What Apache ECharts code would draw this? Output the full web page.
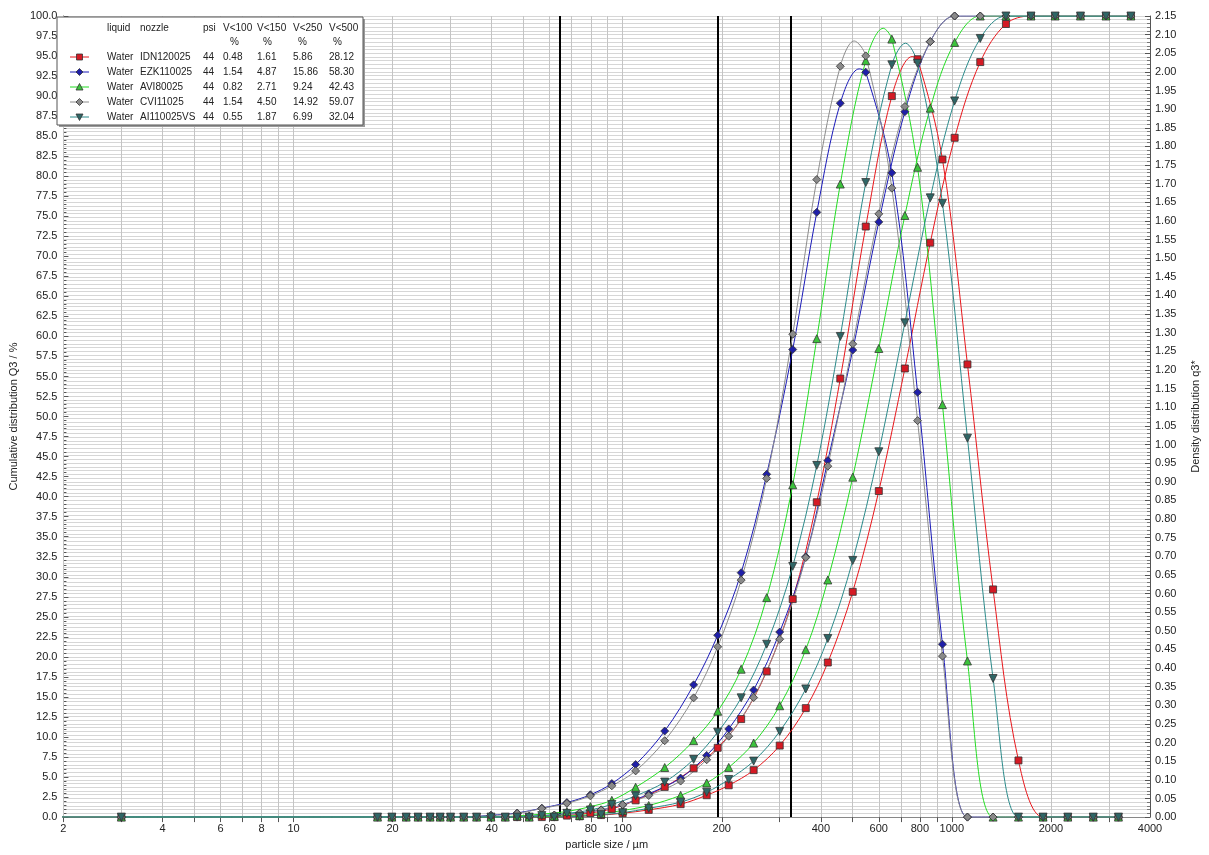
<!DOCTYPE html>
<html><head><meta charset="utf-8">
<script src="https://cdn.jsdelivr.net/npm/echarts@6/dist/echarts.min.js"></script>
<style>html,body{margin:0;padding:0;background:#fff}#c{width:1209px;height:855px}</style>
</head><body><div id="c"></div>
<script>
// particle size classes (µm): upper class limits for Q3, class mid points for q3*
const sizeLimits = [0.5, 18, 22, 26, 30, 36, 44, 52, 62, 74, 86, 100, 120, 150, 180, 210, 250, 300, 360, 420, 500, 600, 720, 860, 1020, 1220, 1460, 1740, 2060, 2460, 2940, 3500];
const sizeMids = [3.0, 19.9, 23.9, 27.9, 32.9, 39.8, 47.8, 56.8, 67.7, 79.8, 92.7, 109.5, 134.2, 164.3, 194.4, 229.1, 273.9, 328.6, 388.8, 458.3, 547.7, 657.3, 786.9, 936.6, 1115.6, 1334.6, 1593.9, 1893.2, 2251.2, 2689.4, 3207.8];

// cumulative distribution Q3 (%)
const q3IDN = [0,0,0,0,0,0,0,0,0,0.1,0.25,0.48,0.9,1.61,2.73,3.97,5.86,8.93,13.6,19.3,28.12,40.7,56.0,71.7,84.8,94.25,99.0,100,100,100,100,100];
const q3EZK = [0,0,0,0,0,0,0,0.1,0.25,0.5,0.9,1.54,2.9,4.87,7.7,11.0,15.86,23.1,32.5,44.5,58.30,74.3,88.05,96.8,100,100,100,100,100,100,100,100];
const q3AVI = [0,0,0,0,0,0,0,0,0.1,0.2,0.45,0.82,1.45,2.71,4.26,6.2,9.24,13.9,20.9,29.6,42.43,58.5,75.1,88.5,96.7,100,100,100,100,100,100,100];
const q3CVI = [0,0,0,0,0,0,0,0.1,0.25,0.5,0.9,1.54,2.7,4.50,7.16,10.1,14.92,22.2,32.4,43.8,59.07,75.3,88.7,96.8,100,100,100,100,100,100,100,100];
const q3AI  = [0,0,0,0,0,0,0,0,0,0.1,0.3,0.55,1.1,1.87,3.1,4.7,6.99,10.7,16.0,22.3,32.04,45.6,61.7,77.3,89.4,97.2,100,100,100,100,100,100];

// density distribution q3*
const dIDN = [0,0,0,0,0,0,0,0,0.004,0.011,0.022,0.045,0.081,0.131,0.186,0.263,0.391,0.585,0.845,1.177,1.585,1.935,2.034,1.765,1.215,0.611,0.152,0,0,0,0];
const dEZK = [0,0,0,0,0,0.005,0.011,0.024,0.039,0.060,0.090,0.141,0.231,0.355,0.488,0.656,0.920,1.255,1.623,1.916,1.999,1.729,1.140,0.464,0,0,0,0,0,0,0];
const dAVI = [0,0,0,0,0,0,0.003,0.008,0.015,0.028,0.045,0.080,0.133,0.205,0.284,0.397,0.589,0.892,1.284,1.699,2.030,2.088,1.744,1.107,0.419,0,0,0,0,0,0];
const dCVI = [0,0,0,0,0,0.004,0.010,0.023,0.037,0.057,0.084,0.124,0.205,0.320,0.457,0.636,0.909,1.296,1.711,2.015,2.043,1.688,1.064,0.432,0,0,0,0,0,0,0];
const dAI  = [0,0,0,0,0,0,0,0.004,0.010,0.019,0.034,0.057,0.094,0.155,0.228,0.320,0.464,0.673,0.944,1.290,1.703,2.019,2.023,1.647,1.017,0.372,0,0,0,0,0];

// density curve maxima (size µm, q3*) — line only, no marker
const peakIDN = [757, 2.041];
const peakEZK = [523, 2.008];
const peakAVI = [619, 2.117];
const peakCVI = [505, 2.083];
const peakAI  = [723, 2.077];

// legend table
const liquids = ['Water','Water','Water','Water','Water'];
const nozzles = ['IDN120025','EZK110025','AVI80025','CVI11025','AI110025VS'];
const psi = [44,44,44,44,44];
const v100 = [0.48,1.54,0.82,1.54,0.55];
const v150 = [1.61,4.87,2.71,4.50,1.87];
const v250 = [5.86,15.86,9.24,14.92,6.99];
const v500 = [28.12,58.30,42.43,59.07,32.04];

// axis ticks
const xLabelTicks = [2,4,6,8,10,20,40,60,80,100,200,400,600,800,1000,2000,4000];
const xGridTicks = [2,3,4,5,6,7,8,9,10,20,30,40,50,60,70,80,90,100,200,300,400,500,600,700,800,900,1000,2000,3000];
const refLines = [64.4, 194.2, 323.4];

const cumData = [q3IDN,q3EZK,q3AVI,q3CVI,q3AI];
const densData = [dIDN,dEZK,dAVI,dCVI,dAI];
const peaks = [peakIDN,peakEZK,peakAVI,peakCVI,peakAI];

const styles = [
  {line:'#e8161b', fill:'#d41a24', symbol:'rect', size:7, rotate:0},
  {line:'#1a1ab8', fill:'#1f1fa8', symbol:'diamond', size:8, rotate:0},
  {line:'#22dd22', fill:'#3cc23c', symbol:'triangle', size:8, rotate:0},
  {line:'#8c8c8c', fill:'#8a8a8a', symbol:'diamond', size:8, rotate:0},
  {line:'#2a8a8a', fill:'#2f6666', symbol:'triangle', size:8, rotate:180}
];

const FONT = 'Liberation Sans';
const series = [];
series.push({
  type:'line', data:[], z:1, silent:true,
  markLine:{silent:true, symbol:'none', animation:false, label:{show:false},
    lineStyle:{color:'#c4c4c4', width:1, type:'solid'},
    data: xGridTicks.map(v=>({xAxis:v}))}
});
series.push({
  type:'line', data:[], z:3, silent:true,
  markLine:{silent:true, symbol:'none', animation:false, label:{show:false},
    lineStyle:{color:'#000', width:2, type:'solid'},
    data: refLines.map(v=>({xAxis:v}))}
});
for (let i=0;i<5;i++){
  const s = styles[i];
  const common = {
    type:'line', smooth:0.35, symbol:s.symbol, symbolSize:s.size, symbolRotate:s.rotate,
    showAllSymbol:true, z:5,
    lineStyle:{color:s.line, width:1},
    itemStyle:{color:s.fill, borderColor:'#333', borderWidth:0.8},
    emphasis:{disabled:true}
  };
  series.push(Object.assign({}, common, {name:nozzles[i]+' Q3', yAxisIndex:0,
    data: sizeLimits.map((x,j)=>[x, cumData[i][j]])}));
  const dens = sizeMids.map((x,j)=>({value:[x, densData[i][j]]}));
  dens.push({value:peaks[i].slice(), symbol:'none'});
  dens.sort((a,b)=>a.value[0]-b.value[0]);
  series.push(Object.assign({}, common, {name:nozzles[i]+' q3', yAxisIndex:1, data: dens}));
}

// legend graphic
const LX = 57, LY = 17;
const g = [];
g.push({type:'rect', shape:{x:LX+2, y:LY+2, width:306, height:108}, style:{fill:'#9a9a9a'}, z:100});
g.push({type:'rect', shape:{x:LX, y:LY, width:306, height:108}, style:{fill:'#fff', stroke:'#555', lineWidth:1}, z:101});
const cols = [107,140,203,223,257,293,329];
const headers = ['liquid','nozzle','psi','V<100','V<150','V<250','V<500'];
const txt = (t,x,y)=>({type:'text', z:102, style:{text:t, x:x, y:y, font:'10px '+FONT, fill:'#222', textVerticalAlign:'middle'}});
headers.forEach((h,k)=>g.push(txt(h, cols[k], 28)));
[230,263,298,333].forEach(x=>g.push(txt('%', x, 42)));
for (let i=0;i<5;i++){
  const y = 57 + i*15;
  const s = styles[i];
  g.push({type:'line', z:102, shape:{x1:70,y1:y,x2:89,y2:y}, style:{stroke:s.line, lineWidth:1}});
  let shp;
  const cx=79.5, r=3.5;
  if (s.symbol==='rect') shp={type:'rect', shape:{x:cx-3,y:y-3,width:6,height:6}};
  else if (s.symbol==='diamond') shp={type:'polygon', shape:{points:[[cx,y-r],[cx+r,y],[cx,y+r],[cx-r,y]]}};
  else if (s.rotate===180) shp={type:'polygon', shape:{points:[[cx-r,y-r+0.5],[cx+r,y-r+0.5],[cx,y+r]]}};
  else shp={type:'polygon', shape:{points:[[cx-r,y+r-0.5],[cx+r,y+r-0.5],[cx,y-r]]}};
  shp.z=103; shp.style={fill:s.fill, stroke:'#333', lineWidth:0.8};
  g.push(shp);
  const vals = [liquids[i], nozzles[i], String(psi[i]), v100[i].toFixed(2), v150[i].toFixed(2), v250[i].toFixed(2), v500[i].toFixed(2)];
  vals.forEach((v,k)=>g.push(txt(v, cols[k], y)));
}

const chart = echarts.init(document.getElementById('c'), null, {renderer:'canvas'});
chart.setOption({
  animation:false,
  backgroundColor:'#fff',
  textStyle:{fontFamily:FONT},
  grid:{left:63, right:51, top:16, bottom:33},
  xAxis:[{
    type:'log', logBase:10, min:2, max:4000, position:'bottom',
    name:'particle size / µm', nameLocation:'middle', nameGap:20,
    nameTextStyle:{fontSize:11, color:'#222', fontFamily:FONT},
    axisLine:{show:true, lineStyle:{color:'#777', width:1}},
    axisTick:{show:true, inside:true, length:5, customValues:xGridTicks, lineStyle:{color:'#555'}},
    axisLabel:{show:true, customValues:xLabelTicks, fontSize:11, color:'#222', margin:6, formatter:v=>String(Math.round(v))},
    splitLine:{show:false}, minorTick:{show:false}, minorSplitLine:{show:false}
  },{
    type:'log', logBase:10, min:2, max:4000, position:'top',
    axisLine:{show:true, lineStyle:{color:'#888', width:1}},
    axisTick:{show:true, inside:true, length:5, customValues:xGridTicks, lineStyle:{color:'#555'}},
    axisLabel:{show:false}, splitLine:{show:false}
  }],
  yAxis:[{
    type:'value', min:0, max:100, interval:2.5, position:'left',
    name:'Cumulative distribution Q3 / %', nameLocation:'middle', nameGap:42, nameRotate:90,
    nameTextStyle:{fontSize:11, color:'#222', fontFamily:FONT},
    axisLine:{show:true, lineStyle:{color:'#555'}},
    axisTick:{show:true, inside:true, length:5, lineStyle:{color:'#555'}},
    minorTick:{show:true, splitNumber:5, length:3, lineStyle:{color:'#555'}},
    axisLabel:{fontSize:11, color:'#222', margin:6, formatter:v=>v.toFixed(1)},
    splitLine:{show:false}
  },{
    type:'value', min:0, max:2.15, interval:0.05, position:'right',
    name:'Density distribution q3*', nameLocation:'middle', nameGap:40, nameRotate:90,
    nameTextStyle:{fontSize:11, color:'#222', fontFamily:FONT},
    axisLine:{show:true, lineStyle:{color:'#555'}},
    axisTick:{show:true, inside:true, length:5, lineStyle:{color:'#555'}},
    minorTick:{show:true, splitNumber:5, length:3, lineStyle:{color:'#777'}},
    axisLabel:{fontSize:11, color:'#222', margin:5, formatter:v=>v.toFixed(2)},
    splitLine:{show:true, lineStyle:{color:'#d6d6d6', width:1}},
    minorSplitLine:{show:true, lineStyle:{color:'#d6d6d6', width:1}}
  }],
  series: series,
  graphic: g
});
</script></body></html>
